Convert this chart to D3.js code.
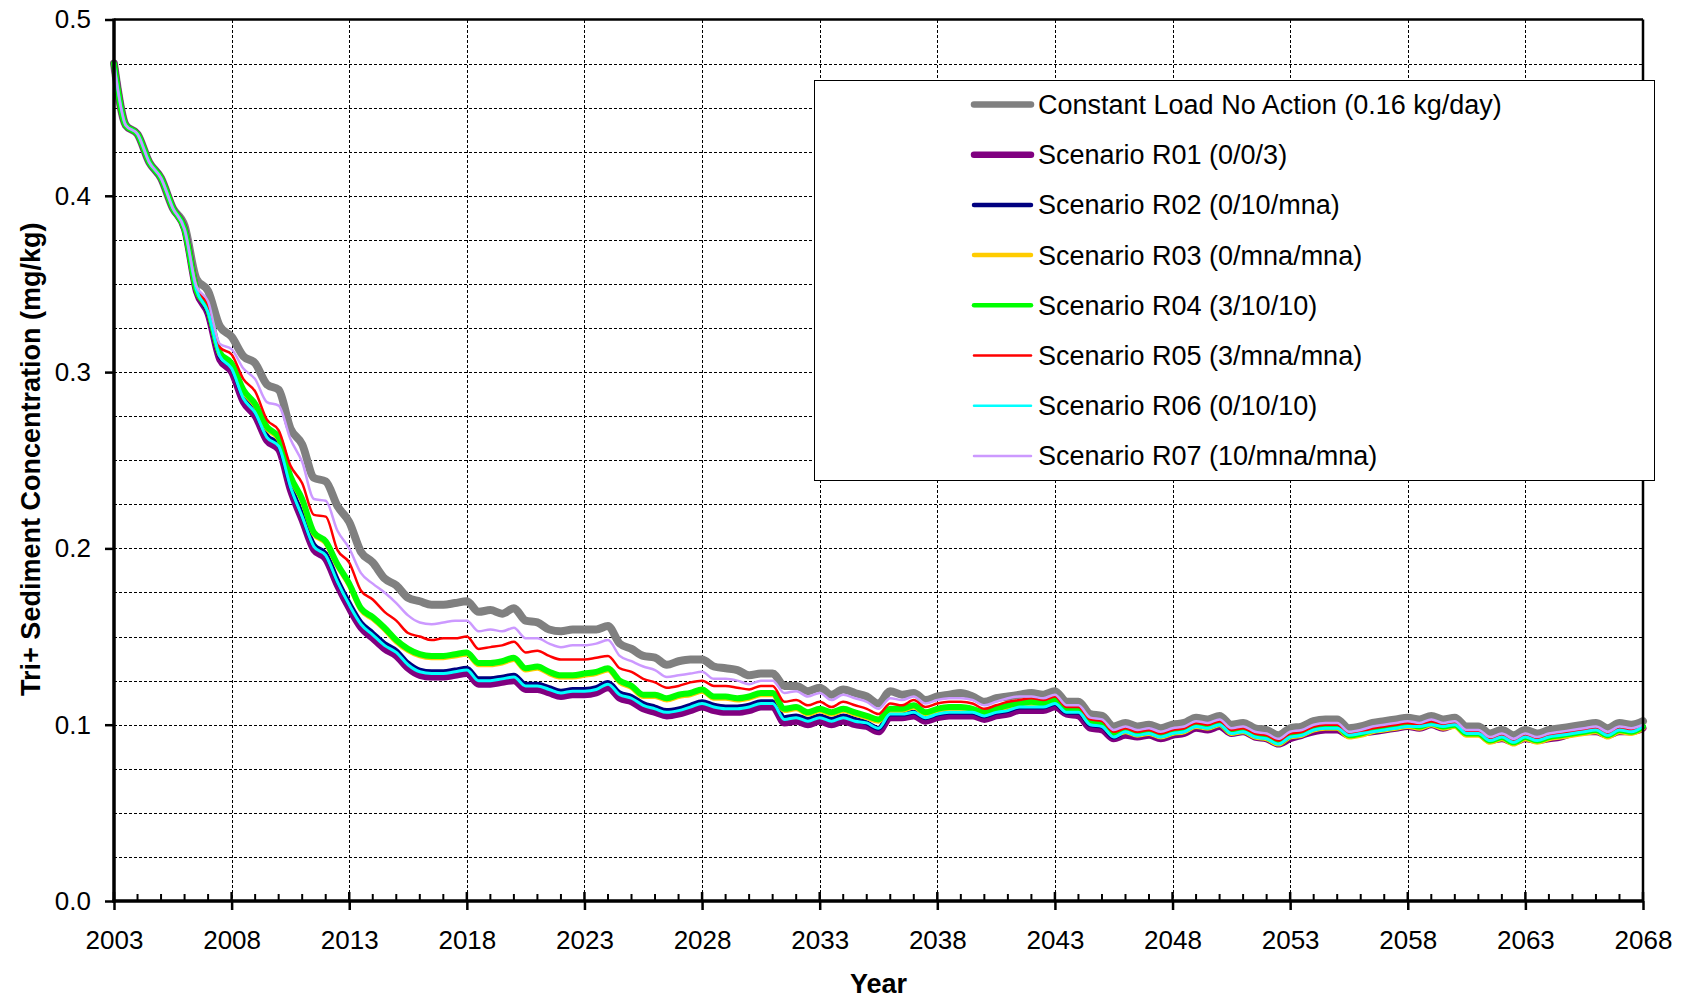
<!DOCTYPE html>
<html>
<head>
<meta charset="utf-8">
<script src="https://cdn.jsdelivr.net/npm/d3@7"></script>
<style>
  body { margin: 0; background: #fff; }
  svg { display: block; font-family: "Liberation Sans", Arial, sans-serif; }
</style>
</head>
<body>
<svg id="chart" width="1686" height="1001"></svg>
<script>
// Half-yearly samples, 2003.0 .. 2068.0 (131 points per series)
const startYear = 2003;
const endYear = 2068;
const stepYears = 0.5;

const yearTicks = [2003, 2008, 2013, 2018, 2023, 2028, 2033, 2038, 2043, 2048, 2053, 2058, 2063, 2068];
const concTicks = [0.0, 0.1, 0.2, 0.3, 0.4, 0.5];

const seriesNames = [
  "Constant Load No Action (0.16 kg/day)",
  "Scenario R01 (0/0/3)",
  "Scenario R02 (0/10/mna)",
  "Scenario R03 (0/mna/mna)",
  "Scenario R04 (3/10/10)",
  "Scenario R05 (3/mna/mna)",
  "Scenario R06 (0/10/10)",
  "Scenario R07 (10/mna/mna)"
];

// Tri+ sediment concentration (mg/kg)
const constantLoad = [
  0.475, 0.440, 0.435, 0.419, 0.410, 0.393, 0.383, 0.353, 0.346, 0.326,
  0.320, 0.309, 0.305, 0.293, 0.290, 0.268, 0.259, 0.240, 0.238, 0.224,
  0.215, 0.198, 0.192, 0.183, 0.179, 0.172, 0.170, 0.168, 0.168, 0.169,
  0.170, 0.164, 0.165, 0.163, 0.166, 0.159, 0.158, 0.154, 0.153, 0.154,
  0.154, 0.154, 0.156, 0.146, 0.143, 0.139, 0.138, 0.134, 0.136, 0.137,
  0.137, 0.133, 0.132, 0.131, 0.128, 0.129, 0.129, 0.122, 0.122, 0.119,
  0.121, 0.117, 0.120, 0.118, 0.116, 0.112, 0.119, 0.117, 0.118, 0.114,
  0.116, 0.117, 0.118, 0.116, 0.113, 0.115, 0.116, 0.117, 0.118, 0.117,
  0.119, 0.113, 0.113, 0.106, 0.105, 0.099, 0.101, 0.099, 0.100, 0.098,
  0.100, 0.101, 0.104, 0.103, 0.105, 0.100, 0.101, 0.098, 0.097, 0.094,
  0.098, 0.099, 0.102, 0.103, 0.103, 0.098, 0.099, 0.101, 0.102, 0.103,
  0.104, 0.103, 0.105, 0.103, 0.104, 0.099, 0.099, 0.095, 0.097, 0.094,
  0.097, 0.095, 0.097, 0.098, 0.099, 0.100, 0.101, 0.098, 0.101, 0.100,
  0.102
];

const scenarioR01 = [
  0.475, 0.440, 0.435, 0.419, 0.410, 0.393, 0.381, 0.346, 0.333, 0.307,
  0.300, 0.283, 0.275, 0.261, 0.256, 0.233, 0.216, 0.199, 0.194, 0.179,
  0.166, 0.155, 0.149, 0.143, 0.139, 0.132, 0.128, 0.127, 0.127, 0.128,
  0.129, 0.123, 0.123, 0.124, 0.125, 0.120, 0.120, 0.118, 0.116, 0.117,
  0.117, 0.118, 0.121, 0.115, 0.113, 0.109, 0.107, 0.105, 0.106, 0.108,
  0.110, 0.108, 0.107, 0.107, 0.108, 0.110, 0.110, 0.101, 0.102, 0.100,
  0.102, 0.100, 0.102, 0.100, 0.099, 0.096, 0.104, 0.104, 0.105, 0.102,
  0.104, 0.105, 0.105, 0.105, 0.103, 0.105, 0.106, 0.108, 0.108, 0.108,
  0.110, 0.106, 0.105, 0.098, 0.097, 0.092, 0.094, 0.093, 0.094, 0.092,
  0.094, 0.095, 0.098, 0.097, 0.099, 0.095, 0.096, 0.093, 0.092, 0.089,
  0.092, 0.094, 0.096, 0.097, 0.097, 0.094, 0.095, 0.096, 0.097, 0.098,
  0.099, 0.098, 0.100, 0.098, 0.100, 0.095, 0.095, 0.091, 0.092, 0.090,
  0.092, 0.091, 0.092, 0.093, 0.095, 0.096, 0.096, 0.094, 0.096, 0.096,
  0.098
];

const scenarioR02 = [
  0.475, 0.440, 0.435, 0.419, 0.410, 0.393, 0.381, 0.347, 0.334, 0.309,
  0.303, 0.286, 0.278, 0.264, 0.259, 0.236, 0.219, 0.202, 0.197, 0.182,
  0.169, 0.158, 0.152, 0.146, 0.142, 0.135, 0.131, 0.130, 0.130, 0.131,
  0.132, 0.126, 0.126, 0.127, 0.128, 0.123, 0.123, 0.121, 0.119, 0.120,
  0.120, 0.121, 0.124, 0.118, 0.116, 0.112, 0.110, 0.108, 0.109, 0.111,
  0.113, 0.111, 0.110, 0.110, 0.111, 0.113, 0.113, 0.104, 0.105, 0.103,
  0.105, 0.103, 0.105, 0.103, 0.101, 0.098, 0.106, 0.106, 0.107, 0.104,
  0.106, 0.107, 0.107, 0.107, 0.105, 0.107, 0.108, 0.110, 0.110, 0.110,
  0.112, 0.107, 0.107, 0.100, 0.099, 0.093, 0.096, 0.094, 0.095, 0.093,
  0.095, 0.096, 0.099, 0.098, 0.100, 0.095, 0.096, 0.093, 0.092, 0.089,
  0.093, 0.094, 0.097, 0.098, 0.098, 0.094, 0.095, 0.096, 0.097, 0.098,
  0.099, 0.099, 0.100, 0.099, 0.100, 0.095, 0.095, 0.091, 0.093, 0.090,
  0.093, 0.091, 0.093, 0.094, 0.095, 0.096, 0.097, 0.094, 0.097, 0.096,
  0.099
];

const scenarioR03 = [
  0.475, 0.440, 0.435, 0.419, 0.410, 0.393, 0.381, 0.347, 0.335, 0.310,
  0.304, 0.289, 0.281, 0.268, 0.262, 0.240, 0.227, 0.208, 0.203, 0.190,
  0.179, 0.165, 0.160, 0.154, 0.147, 0.142, 0.139, 0.138, 0.138, 0.139,
  0.140, 0.134, 0.134, 0.135, 0.137, 0.131, 0.132, 0.129, 0.127, 0.127,
  0.128, 0.129, 0.131, 0.124, 0.121, 0.116, 0.116, 0.114, 0.116, 0.117,
  0.119, 0.115, 0.115, 0.114, 0.115, 0.117, 0.117, 0.108, 0.109, 0.106,
  0.108, 0.106, 0.108, 0.106, 0.104, 0.102, 0.108, 0.108, 0.110, 0.106,
  0.108, 0.109, 0.109, 0.108, 0.106, 0.108, 0.110, 0.111, 0.112, 0.111,
  0.113, 0.108, 0.108, 0.101, 0.100, 0.094, 0.096, 0.094, 0.095, 0.093,
  0.095, 0.096, 0.099, 0.098, 0.100, 0.095, 0.096, 0.093, 0.092, 0.089,
  0.093, 0.094, 0.097, 0.098, 0.098, 0.093, 0.094, 0.096, 0.097, 0.098,
  0.099, 0.098, 0.100, 0.098, 0.099, 0.094, 0.094, 0.090, 0.092, 0.089,
  0.092, 0.090, 0.092, 0.093, 0.094, 0.095, 0.096, 0.093, 0.096, 0.095,
  0.098
];

const scenarioR04 = [
  0.475, 0.440, 0.435, 0.419, 0.410, 0.393, 0.381, 0.347, 0.336, 0.311,
  0.305, 0.290, 0.282, 0.269, 0.263, 0.241, 0.228, 0.209, 0.204, 0.191,
  0.180, 0.166, 0.161, 0.155, 0.148, 0.143, 0.140, 0.139, 0.139, 0.140,
  0.141, 0.135, 0.135, 0.136, 0.138, 0.132, 0.133, 0.130, 0.128, 0.128,
  0.129, 0.130, 0.132, 0.125, 0.122, 0.117, 0.117, 0.115, 0.117, 0.118,
  0.120, 0.116, 0.116, 0.115, 0.116, 0.118, 0.118, 0.109, 0.110, 0.107,
  0.109, 0.107, 0.109, 0.107, 0.105, 0.103, 0.109, 0.109, 0.111, 0.107,
  0.109, 0.110, 0.110, 0.109, 0.107, 0.109, 0.111, 0.112, 0.113, 0.112,
  0.114, 0.109, 0.109, 0.102, 0.101, 0.095, 0.097, 0.095, 0.096, 0.094,
  0.096, 0.097, 0.100, 0.099, 0.101, 0.096, 0.097, 0.094, 0.093, 0.090,
  0.094, 0.095, 0.098, 0.099, 0.099, 0.094, 0.095, 0.097, 0.098, 0.099,
  0.100, 0.099, 0.101, 0.099, 0.100, 0.095, 0.095, 0.091, 0.093, 0.090,
  0.093, 0.091, 0.093, 0.094, 0.095, 0.096, 0.097, 0.094, 0.097, 0.096,
  0.099
];

const scenarioR05 = [
  0.475, 0.440, 0.435, 0.419, 0.410, 0.393, 0.381, 0.348, 0.338, 0.314,
  0.310, 0.296, 0.289, 0.273, 0.267, 0.247, 0.237, 0.219, 0.218, 0.199,
  0.192, 0.176, 0.171, 0.164, 0.159, 0.152, 0.150, 0.148, 0.149, 0.149,
  0.150, 0.143, 0.144, 0.145, 0.147, 0.141, 0.142, 0.139, 0.137, 0.137,
  0.137, 0.138, 0.139, 0.132, 0.130, 0.126, 0.124, 0.121, 0.122, 0.124,
  0.125, 0.122, 0.122, 0.121, 0.120, 0.122, 0.122, 0.113, 0.114, 0.111,
  0.113, 0.110, 0.113, 0.111, 0.109, 0.106, 0.112, 0.111, 0.114, 0.110,
  0.112, 0.113, 0.113, 0.112, 0.109, 0.111, 0.113, 0.114, 0.115, 0.114,
  0.116, 0.110, 0.110, 0.103, 0.102, 0.096, 0.098, 0.096, 0.097, 0.095,
  0.097, 0.098, 0.101, 0.100, 0.102, 0.097, 0.098, 0.095, 0.094, 0.091,
  0.095, 0.096, 0.099, 0.100, 0.100, 0.095, 0.096, 0.098, 0.099, 0.100,
  0.101, 0.100, 0.102, 0.100, 0.101, 0.096, 0.096, 0.092, 0.094, 0.091,
  0.094, 0.092, 0.094, 0.095, 0.096, 0.097, 0.098, 0.095, 0.098, 0.097,
  0.099
];

const scenarioR06 = [
  0.475, 0.440, 0.435, 0.419, 0.410, 0.393, 0.381, 0.347, 0.334, 0.309,
  0.302, 0.285, 0.277, 0.263, 0.258, 0.235, 0.218, 0.201, 0.196, 0.181,
  0.168, 0.157, 0.151, 0.145, 0.141, 0.134, 0.130, 0.129, 0.129, 0.130,
  0.131, 0.125, 0.125, 0.126, 0.127, 0.122, 0.122, 0.120, 0.118, 0.119,
  0.119, 0.120, 0.123, 0.117, 0.115, 0.111, 0.109, 0.107, 0.108, 0.110,
  0.112, 0.110, 0.109, 0.109, 0.110, 0.112, 0.112, 0.103, 0.104, 0.102,
  0.104, 0.102, 0.104, 0.102, 0.101, 0.098, 0.106, 0.106, 0.107, 0.104,
  0.106, 0.107, 0.107, 0.107, 0.105, 0.107, 0.108, 0.110, 0.110, 0.110,
  0.112, 0.107, 0.107, 0.100, 0.099, 0.093, 0.096, 0.094, 0.095, 0.093,
  0.095, 0.096, 0.099, 0.098, 0.100, 0.095, 0.096, 0.093, 0.092, 0.089,
  0.093, 0.094, 0.097, 0.098, 0.098, 0.094, 0.095, 0.096, 0.097, 0.098,
  0.099, 0.099, 0.100, 0.099, 0.100, 0.095, 0.095, 0.091, 0.093, 0.090,
  0.093, 0.091, 0.093, 0.094, 0.095, 0.096, 0.097, 0.094, 0.097, 0.096,
  0.099
];

const scenarioR07 = [
  0.475, 0.440, 0.435, 0.419, 0.410, 0.393, 0.381, 0.349, 0.340, 0.316,
  0.313, 0.302, 0.296, 0.283, 0.281, 0.262, 0.249, 0.228, 0.227, 0.210,
  0.200, 0.186, 0.180, 0.175, 0.169, 0.162, 0.158, 0.157, 0.158, 0.159,
  0.159, 0.153, 0.154, 0.153, 0.155, 0.149, 0.149, 0.146, 0.144, 0.145,
  0.145, 0.146, 0.148, 0.139, 0.136, 0.133, 0.131, 0.127, 0.128, 0.129,
  0.130, 0.126, 0.126, 0.125, 0.123, 0.125, 0.125, 0.118, 0.119, 0.116,
  0.118, 0.114, 0.117, 0.115, 0.113, 0.109, 0.115, 0.114, 0.116, 0.112,
  0.114, 0.115, 0.115, 0.114, 0.111, 0.113, 0.115, 0.116, 0.116, 0.115,
  0.117, 0.111, 0.111, 0.104, 0.103, 0.097, 0.099, 0.097, 0.098, 0.096,
  0.098, 0.099, 0.102, 0.101, 0.103, 0.098, 0.099, 0.096, 0.095, 0.092,
  0.096, 0.097, 0.100, 0.101, 0.101, 0.096, 0.097, 0.099, 0.100, 0.101,
  0.102, 0.101, 0.103, 0.101, 0.102, 0.097, 0.097, 0.093, 0.095, 0.092,
  0.095, 0.093, 0.095, 0.096, 0.097, 0.098, 0.099, 0.096, 0.099, 0.098,
  0.100
];

const seriesValues = [constantLoad, scenarioR01, scenarioR02, scenarioR03,
                      scenarioR04, scenarioR05, scenarioR06, scenarioR07];
const seriesColors = ["#808080", "#800080", "#000080", "#FFCC00", "#00FF00", "#FF0000", "#00FFFF", "#CC99FF"];
const plotWidths   = [8, 7, 5, 5, 6, 2.5, 3, 2.5];
const legendWidths = [6.5, 6.5, 4.5, 4.5, 4.5, 2.5, 2.5, 2.5];
// painting order, back to front
const drawOrder = [0, 1, 2, 3, 4, 5, 6, 7];

const sampleYears = d3.range(seriesValues[0].length).map(i => startYear + i * stepYears);

const svg = d3.select("#chart");
const plotLeft = 114, plotRight = 1643, plotTop = 19.5, plotBottom = 901;
const labelFont = "Liberation Sans, Arial, sans-serif";

const x = d3.scaleLinear().domain([startYear, endYear]).range([plotLeft, plotRight]);
const y = d3.scaleLinear().domain([0, 0.5]).range([plotBottom, plotTop]);

svg.append("rect").attr("width", 1686).attr("height", 1001).attr("fill", "#fff");

// dashed grid
const grid = svg.append("g").attr("stroke", "#000").attr("stroke-width", 1)
  .attr("stroke-dasharray", "3,2").attr("shape-rendering", "crispEdges");
const hGrid = d3.range(1, 20).map(i => i * 0.025);
grid.selectAll("line.h").data(hGrid).join("line").attr("class", "h")
  .attr("x1", plotLeft).attr("x2", plotRight)
  .attr("y1", d => Math.round(y(d)) + 0.5).attr("y2", d => Math.round(y(d)) + 0.5);
grid.selectAll("line.v").data(yearTicks.slice(1, -1)).join("line").attr("class", "v")
  .attr("y1", plotTop).attr("y2", plotBottom)
  .attr("x1", d => Math.round(x(d)) + 0.5).attr("x2", d => Math.round(x(d)) + 0.5);

// series
const line = d3.line().curve(d3.curveMonotoneX)
  .x((d, i) => x(sampleYears[i])).y(d => y(d));
const lines = svg.append("g").attr("fill", "none")
  .attr("stroke-linejoin", "round").attr("stroke-linecap", "round");
drawOrder.forEach(k => {
  lines.append("path").datum(seriesValues[k])
    .attr("d", line)
    .attr("stroke", seriesColors[k])
    .attr("stroke-width", plotWidths[k]);
});

// frame
svg.append("line").attr("x1", plotLeft).attr("x2", plotRight).attr("y1", plotTop).attr("y2", plotTop)
  .attr("stroke", "#000").attr("stroke-width", 2.5);
svg.append("line").attr("x1", plotRight).attr("x2", plotRight).attr("y1", plotTop).attr("y2", plotBottom)
  .attr("stroke", "#000").attr("stroke-width", 2.5);

// y axis
const yAxis = svg.append("g").attr("transform", `translate(${plotLeft},0)`)
  .call(d3.axisLeft(y).tickValues(concTicks).tickFormat(d3.format(".1f"))
    .tickSize(9).tickPadding(14));
yAxis.select(".domain").remove();
yAxis.selectAll(".tick line").attr("stroke", "#000").attr("stroke-width", 2.5);
yAxis.selectAll(".tick text").attr("font-size", 26).attr("fill", "#000")
  .attr("font-family", labelFont);
svg.append("line").attr("x1", plotLeft).attr("x2", plotLeft).attr("y1", plotTop - 1).attr("y2", plotBottom + 1.5)
  .attr("stroke", "#000").attr("stroke-width", 3.5);

// x axis: minor yearly ticks inside, major ticks crossing
const minorYears = d3.range(startYear + 1, endYear).filter(d => !yearTicks.includes(d));
svg.append("g").selectAll("line").data(minorYears).join("line")
  .attr("x1", d => x(d)).attr("x2", d => x(d))
  .attr("y1", plotBottom - 7).attr("y2", plotBottom)
  .attr("stroke", "#000").attr("stroke-width", 2);
svg.append("g").selectAll("line").data(yearTicks).join("line")
  .attr("x1", d => x(d)).attr("x2", d => x(d))
  .attr("y1", plotBottom - 9).attr("y2", plotBottom)
  .attr("stroke", "#000").attr("stroke-width", 2.5);
const xAxis = svg.append("g").attr("transform", `translate(0,${plotBottom})`)
  .call(d3.axisBottom(x).tickValues(yearTicks).tickFormat(d3.format("d"))
    .tickSize(9).tickPadding(20.5));
xAxis.select(".domain").remove();
xAxis.selectAll(".tick line").attr("stroke", "#000").attr("stroke-width", 2.5);
xAxis.selectAll(".tick text").attr("font-size", 26).attr("fill", "#000")
  .attr("font-family", labelFont);
svg.append("line").attr("x1", plotLeft - 1.5).attr("x2", plotRight + 1).attr("y1", plotBottom).attr("y2", plotBottom)
  .attr("stroke", "#000").attr("stroke-width", 3.5);

// axis titles
svg.append("text").attr("x", (plotLeft + plotRight) / 2).attr("y", 993)
  .attr("text-anchor", "middle").attr("font-size", 27).attr("font-weight", "bold")
  .text("Year");
svg.append("text").attr("transform", `translate(40,${(plotTop + plotBottom) / 2 - 1}) rotate(-90)`)
  .attr("text-anchor", "middle").attr("font-size", 27).attr("font-weight", "bold")
  .text("Tri+ Sediment Concentration (mg/kg)");

// legend
const legend = svg.append("g");
legend.append("rect").attr("x", 814.5).attr("y", 80.5).attr("width", 840).attr("height", 400)
  .attr("fill", "#fff").attr("stroke", "#000").attr("stroke-width", 1);
const rows = legend.selectAll("g.row").data(seriesNames).join("g").attr("class", "row")
  .attr("transform", (d, i) => `translate(0,${104.5 + i * 50.2})`);
rows.append("line").attr("x1", 974).attr("x2", 1031).attr("y1", 0).attr("y2", 0)
  .attr("stroke", (d, i) => seriesColors[i])
  .attr("stroke-width", (d, i) => legendWidths[i])
  .attr("stroke-linecap", "round");
rows.append("text").attr("x", 1038).attr("y", 0).attr("dy", "0.35em")
  .attr("font-size", 27).attr("fill", "#000").text(d => d);
</script>
</body>
</html>
